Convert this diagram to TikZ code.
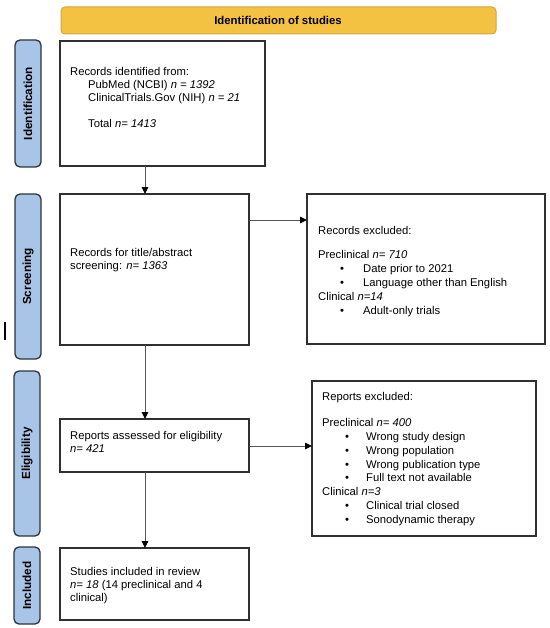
\documentclass[tikz,border=0pt]{standalone}
\usepackage{fontspec}
\setmainfont{Liberation Sans}
\usetikzlibrary{arrows.meta}
\definecolor{barfill}{HTML}{F4C242}
\definecolor{barline}{HTML}{D6A53A}
\definecolor{tabfill}{HTML}{A8C4E6}
\definecolor{tabline}{HTML}{2B3440}
\definecolor{boxline}{HTML}{303030}
\definecolor{arrline}{HTML}{555555}
\begin{document}
\begin{tikzpicture}[x=1bp,y=-1bp,
  stagebox/.style={draw=boxline,line width=1.4bp,fill=white},
  tabbox/.style={draw=tabline,line width=1.3bp,fill=tabfill,rounded corners=5bp},
  tablabel/.style={rotate=90,font=\fontsize{11.8}{14}\selectfont\bfseries,inner sep=0},
  txt/.style={anchor=north west,inner sep=0,align=left,font=\fontsize{11.3}{13.9}\selectfont},
  flow/.style={draw=arrline,line width=0.9bp,-{Triangle[length=7bp,width=6.5bp,color=black]}}]
\useasboundingbox (0,0) rectangle (550,628);
% header bar
\draw[draw=barline,line width=1bp,fill=barfill,rounded corners=4bp] (61,7) rectangle (496,34);
\node[font=\fontsize{11.4}{13}\selectfont\bfseries,inner sep=0] (title) at (278,20.5) {Identification of studies};
% side tabs
\draw[tabbox] (15,40) rectangle (41,167);
\node[tablabel] (tid) at (28,103.5) {Identification};
\draw[tabbox] (15,194) rectangle (41,359);
\node[tablabel] (tsc) at (28,276.5) {Screening};
\draw[tabbox] (14,371) rectangle (40,536);
\node[tablabel] (tel) at (27,453.5) {Eligibility};
\draw[tabbox] (14,547) rectangle (40,624);
\node[tablabel] (tin) at (27,585.5) {Included};
% stray mark
\draw[line width=1.3bp] (5,322) -- (5,340);
% boxes
\draw[stagebox] (60,41) rectangle (265,166);
\coordinate (b1s) at (145,166);
\draw[stagebox] (60,194) rectangle (249,345);
\coordinate (b2n) at (145,194);
\coordinate (b2s) at (145,345);
\coordinate (b2e) at (249,220);
\draw[stagebox] (307,194) rectangle (545,344);
\coordinate (b3w) at (307,220);
\draw[stagebox] (60,419) rectangle (249,472);
\coordinate (b4n) at (145,419);
\coordinate (b4s) at (145,472);
\coordinate (b4e) at (249,446);
\draw[stagebox] (312,381) rectangle (536,536);
\coordinate (b5w) at (312,446);
\draw[stagebox] (60,548) rectangle (249,620);
\coordinate (b6n) at (145,548);
% texts
\node[txt,font=\fontsize{11.3}{13.2}\selectfont] (t1) at (70,66.7) {Records identified from:\\
\hspace*{18bp}PubMed (NCBI) \textit{n = 1392}\\
\hspace*{18bp}ClinicalTrials.Gov (NIH) \textit{n = 21}\\[13.2bp]
\hspace*{18bp}Total \textit{n= 1413}};
\node[txt] (t2) at (70,247.7) {Records for title/abstract\\screening: \textit{n= 1363}};
\node[txt] (t3) at (318,225.7) {Records excluded:\\[11bp]
Preclinical \textit{n= 710}\\
\hspace*{22bp}\makebox[23bp][l]{\textbullet}Date prior to 2021\\
\hspace*{22bp}\makebox[23bp][l]{\textbullet}Language other than English\\
Clinical \textit{n=14}\\
\hspace*{22bp}\makebox[23bp][l]{\textbullet}Adult-only trials};
\node[txt] (t4) at (70,430.7) {Reports assessed for eligibility\\\textit{n= 421}};
\node[txt] (t5) at (322,391.7) {Reports excluded:\\[12.6bp]
Preclinical \textit{n= 400}\\
\hspace*{23bp}\makebox[21bp][l]{\textbullet}Wrong study design\\
\hspace*{23bp}\makebox[21bp][l]{\textbullet}Wrong population\\
\hspace*{23bp}\makebox[21bp][l]{\textbullet}Wrong publication type\\
\hspace*{23bp}\makebox[21bp][l]{\textbullet}Full text not available\\
Clinical \textit{n=3}\\
\hspace*{23bp}\makebox[21bp][l]{\textbullet}Clinical trial closed\\
\hspace*{23bp}\makebox[21bp][l]{\textbullet}Sonodynamic therapy};
\node[txt,font=\fontsize{11.3}{13.2}\selectfont] (t6) at (70,566.7) {Studies included in review\\
\textit{n= 18} (14 preclinical and 4\\clinical)};
% arrows
\draw[flow] (b1s) -- (b2n);
\draw[flow] (b2e) -- (b3w);
\draw[flow] (b2s) -- (b4n);
\draw[flow] (b4e) -- (b5w);
\draw[flow] (b4s) -- (b6n);
\end{tikzpicture}
\end{document}
